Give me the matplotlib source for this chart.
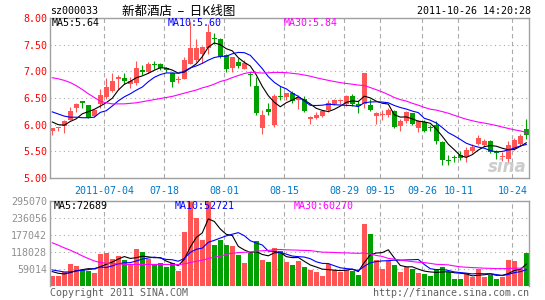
import numpy as np
import matplotlib.pyplot as plt

plt.rcParams['font.family'] = ['DejaVu Sans Mono', 'Noto Sans CJK SC']

# daily candles, 2011-06-20 .. 2011-10-26 (one entry per trading day)
opens = [5.88, 5.93, 5.97, 6.09, 6.32, 6.44, 6.36, 6.16, 6.38, 6.51,
         6.63, 6.85, 6.88, 6.77, 6.78, 7.03, 6.99, 7.13, 7.13, 7.06,
         6.96, 6.83, 6.86, 7.14, 7.22, 7.33, 7.43, 7.61, 7.60, 7.30,
         7.06, 7.18, 7.05, 6.94, 6.73, 5.93, 6.30, 6.00, 6.54, 6.51,
         6.60, 6.46, 6.48, 6.10, 6.13, 6.16, 6.27, 6.39, 6.44, 6.38,
         6.53, 6.39, 6.39, 6.36, 6.16, 6.19, 6.18, 6.25, 5.97, 6.06,
         6.21, 5.94, 6.05, 5.94, 6.00, 5.68, 5.33, 5.38, 5.44, 5.39,
         5.50, 5.64, 5.61, 5.69, 5.48, 5.39, 5.36, 5.55, 5.63, 5.91]
highs = [5.94, 5.96, 6.08, 6.33, 6.41, 6.45, 6.37, 6.30, 6.66, 6.88,
         6.96, 6.94, 6.96, 6.89, 7.19, 7.11, 7.18, 7.19, 7.16, 7.08,
         6.98, 6.91, 7.27, 7.93, 7.61, 7.48, 7.89, 7.71, 7.63, 7.33,
         7.27, 7.25, 7.22, 6.98, 6.89, 6.27, 6.41, 6.58, 6.73, 6.60,
         6.64, 6.55, 6.54, 6.16, 6.23, 6.27, 6.46, 6.48, 6.49, 6.56,
         6.58, 6.44, 6.97, 6.49, 6.24, 6.28, 6.31, 6.28, 6.10, 6.25,
         6.22, 6.08, 6.08, 5.99, 6.06, 5.69, 5.43, 5.43, 5.50, 5.59,
         5.63, 5.80, 5.74, 5.71, 5.52, 5.48, 5.69, 5.75, 5.83, 6.11]
lows = [5.81, 5.89, 5.85, 6.08, 6.24, 6.31, 6.12, 6.14, 6.31, 6.49,
        6.61, 6.66, 6.77, 6.69, 6.74, 6.93, 6.96, 7.05, 7.03, 6.99,
        6.71, 6.78, 6.85, 7.13, 7.18, 7.16, 7.33, 7.52, 7.25, 6.98,
        6.99, 7.06, 7.04, 6.73, 6.19, 5.82, 6.19, 5.96, 6.46, 6.46,
        6.41, 6.29, 6.24, 6.02, 6.11, 6.14, 6.24, 6.36, 6.39, 6.35,
        6.35, 6.22, 6.31, 6.25, 6.01, 6.09, 6.14, 5.93, 5.89, 6.04,
        5.99, 5.86, 5.86, 5.89, 5.64, 5.24, 5.25, 5.30, 5.33, 5.30,
        5.46, 5.61, 5.60, 5.46, 5.35, 5.31, 5.30, 5.52, 5.60, 5.74]
closes = [5.93, 5.93, 6.06, 6.25, 6.38, 6.40, 6.13, 6.28, 6.55, 6.71,
          6.81, 6.89, 6.82, 6.82, 7.06, 6.98, 7.13, 7.11, 7.06, 7.02,
          6.80, 6.84, 7.21, 7.43, 7.43, 7.46, 7.74, 7.60, 7.27, 7.05,
          7.26, 7.10, 7.16, 6.93, 6.21, 6.19, 6.23, 6.54, 6.51, 6.59,
          6.44, 6.52, 6.25, 6.14, 6.18, 6.25, 6.41, 6.46, 6.44, 6.53,
          6.39, 6.35, 6.96, 6.28, 6.22, 6.20, 6.27, 5.96, 6.06, 6.24,
          6.01, 6.06, 5.89, 5.93, 5.70, 5.33, 5.32, 5.37, 5.38, 5.53,
          5.59, 5.75, 5.69, 5.48, 5.47, 5.40, 5.61, 5.71, 5.78, 5.80]
volumes = [33300, 33300, 47300, 74200, 68400, 53200, 50800, 43800, 109300, 113900,
           91700, 102300, 88200, 76500, 126800, 117400, 91700, 73000, 78900, 64900,
           78900, 50800, 185200, 290000, 234300, 158300, 295070, 140800, 158300, 140800,
           137300, 105800, 78900, 113900, 154800, 88200, 82400, 131500, 119800, 82400,
           70700, 84700, 64900, 55500, 47300, 33300, 76500, 55500, 47300, 55500,
           49700, 35600, 214400, 179300, 88200, 56700, 84700, 73000, 47300, 64900,
           56700, 43800, 39100, 32100, 56700, 64900, 47300, 21600, 24000, 45000,
           29800, 59000, 29800, 38000, 21600, 29800, 88200, 84700, 56700, 113900]

# moving averages at the left edge (history not on screen)
ma5_head = [6.05, 6.00, 5.99, 6.06]
ma10_head = [6.24, 6.20, 6.16, 6.14, 6.14, 6.13, 6.13, 6.14, 6.23]
ma30_head = [6.88, 6.86, 6.83, 6.79, 6.73, 6.66, 6.58, 6.51, 6.44, 6.41,
             6.39, 6.39, 6.39, 6.40, 6.41, 6.43, 6.45, 6.47, 6.49, 6.51,
             6.53, 6.56, 6.59, 6.62, 6.65, 6.69, 6.72, 6.76, 6.81]
vma5_head = [48500, 42700, 40300, 45000]
vma10_head = [54300, 50800, 47300, 47300, 50800, 53200, 55500, 59000, 64900]
vma30_head = [149000, 140800, 131500, 123300, 113900, 103400, 94100, 85900, 80000, 77700,
              76500, 75400, 74000, 73500, 73500, 73500, 73500, 73500, 73500, 73500,
              73500, 73000, 75400, 80000, 84700, 88200, 94100, 98700, 102300]

date_idx = [9, 19, 29, 39, 49, 55, 62, 68, 77]
date_labels = ['2011-07-04', '07-18', '08-01', '08-15', '08-29',
               '09-15', '09-26', '10-11', '10-24']
price_ticks = [5.00, 5.50, 6.00, 6.50, 7.00, 7.50, 8.00]
vol_ticks = [59014, 118028, 177042, 236056, 295070]
price_legend = ['MA5:5.64', 'MA10:5.60', 'MA30:5.84']
vol_legend = ['MA5:72689', 'MA10:52721', 'MA30:60270']

RED = '#FF5555'
GREEN = '#00A000'
MA_COLORS = ['black', '#0000FF', '#FF00FF']
FRAME = '#A0A0A0'
W, H = 545, 300


def moving_avg(vals, n, head):
    vals = np.asarray(vals, float)
    out = np.array([vals[max(0, i - n + 1):i + 1].mean() for i in range(len(vals))])
    out[:len(head)] = head
    return out


def rect(x0, y0, x1, y1):
    return [x0 / W, 1 - y1 / H, (x1 - x0) / W, (y1 - y0) / H]


def style_axes(ax):
    ax.set_xlim(-0.38, 79.45)
    for s in ax.spines.values():
        s.set_color(FRAME)
        s.set_linewidth(1.0)
    ax.tick_params(length=0, pad=2)
    ax.grid(axis='y', color='#AAAAAA', linestyle=(0, (1, 3)), linewidth=0.8)
    for d in date_idx:
        ax.axvline(d - 0.33, color='#AAAAAA', linestyle=(0, (4, 3)), linewidth=0.8, zorder=0)
    ax.set_axisbelow(True)


idx = np.arange(len(closes))
o, h, l, c = (np.array(a) for a in (opens, highs, lows, closes))
colors = np.where(c >= o, RED, GREEN)

fig = plt.figure(figsize=(W / 100, H / 100), dpi=100)

# price panel
ax = fig.add_axes(rect(50, 18, 529, 178))
style_axes(ax)
ax.set_ylim(5.0, 8.0)
ax.set_yticks(price_ticks)
ax.set_yticklabels(['%.2f' % p for p in price_ticks], color='red', fontsize=7.2)
ax.set_xticks([d - 0.33 for d in date_idx])
ax.set_xticklabels(date_labels, color='#0078C8', fontsize=7.2)
ax.tick_params(axis='x', pad=6)

ax.text(0.995, 0.01, 'sina', transform=ax.transAxes, ha='right', va='bottom',
        fontsize=12, fontweight='bold', style='italic', color='#CCCCCC',
        family='DejaVu Sans', zorder=1)

ax.vlines(idx, l, h, colors=colors, linewidth=0.8, zorder=2)
ax.bar(idx, np.maximum(np.abs(c - o), 0.019), bottom=np.minimum(o, c),
       width=0.8, color=colors, linewidth=0, zorder=2)
for n, head, col in zip([5, 10, 30], [ma5_head, ma10_head, ma30_head], MA_COLORS):
    ax.plot(idx, moving_avg(closes, n, head), color=col, linewidth=0.8, zorder=3)

for txt, col, x in zip(price_legend, MA_COLORS, [52, 168, 284]):
    fig.text(x / W, 1 - 23.5 / H, txt, color=col, fontsize=7.2, va='center')

# volume panel
axv = fig.add_axes(rect(50, 201, 529, 285.5))
style_axes(axv)
axv.spines['bottom'].set_visible(False)
axv.set_ylim(0, 295070)
axv.set_yticks(vol_ticks)
axv.set_yticklabels([str(v) for v in vol_ticks], color='#909090', fontsize=7.2)
axv.set_xticks([])
axv.bar(idx, volumes, width=0.83, color=colors, linewidth=0, zorder=2)
for n, head, col in zip([5, 10, 30], [vma5_head, vma10_head, vma30_head], MA_COLORS):
    axv.plot(idx, moving_avg(volumes, n, head), color=col, linewidth=0.8, zorder=3)

for txt, col, x in zip(vol_legend, MA_COLORS, [54, 175, 294]):
    fig.text(x / W, 1 - 206 / H, txt, color=col, fontsize=7.2, va='center')

# header and footer
fig.text(50 / W, 1 - 11.5 / H, 'sz000033', fontsize=7.2, va='center')
fig.text(179 / W, 1 - 11.5 / H, '新都酒店  –  日K线图', fontsize=9, va='center', ha='center',
         family=['Noto Sans CJK SC', 'DejaVu Sans'])
fig.text(531 / W, 1 - 11.5 / H, '2011-10-26 14:20:28', fontsize=7.2, va='center', ha='right')
fig.text(50 / W, 1 - 292.5 / H, 'Copyright 2011 SINA.COM', fontsize=7.2, va='center',
         color='#606060')
fig.text(529 / W, 1 - 292.5 / H, 'http://finance.sina.com.cn', fontsize=7.2, va='center',
         ha='right', color='#606060')

fig.savefig('out.png', dpi=100)
